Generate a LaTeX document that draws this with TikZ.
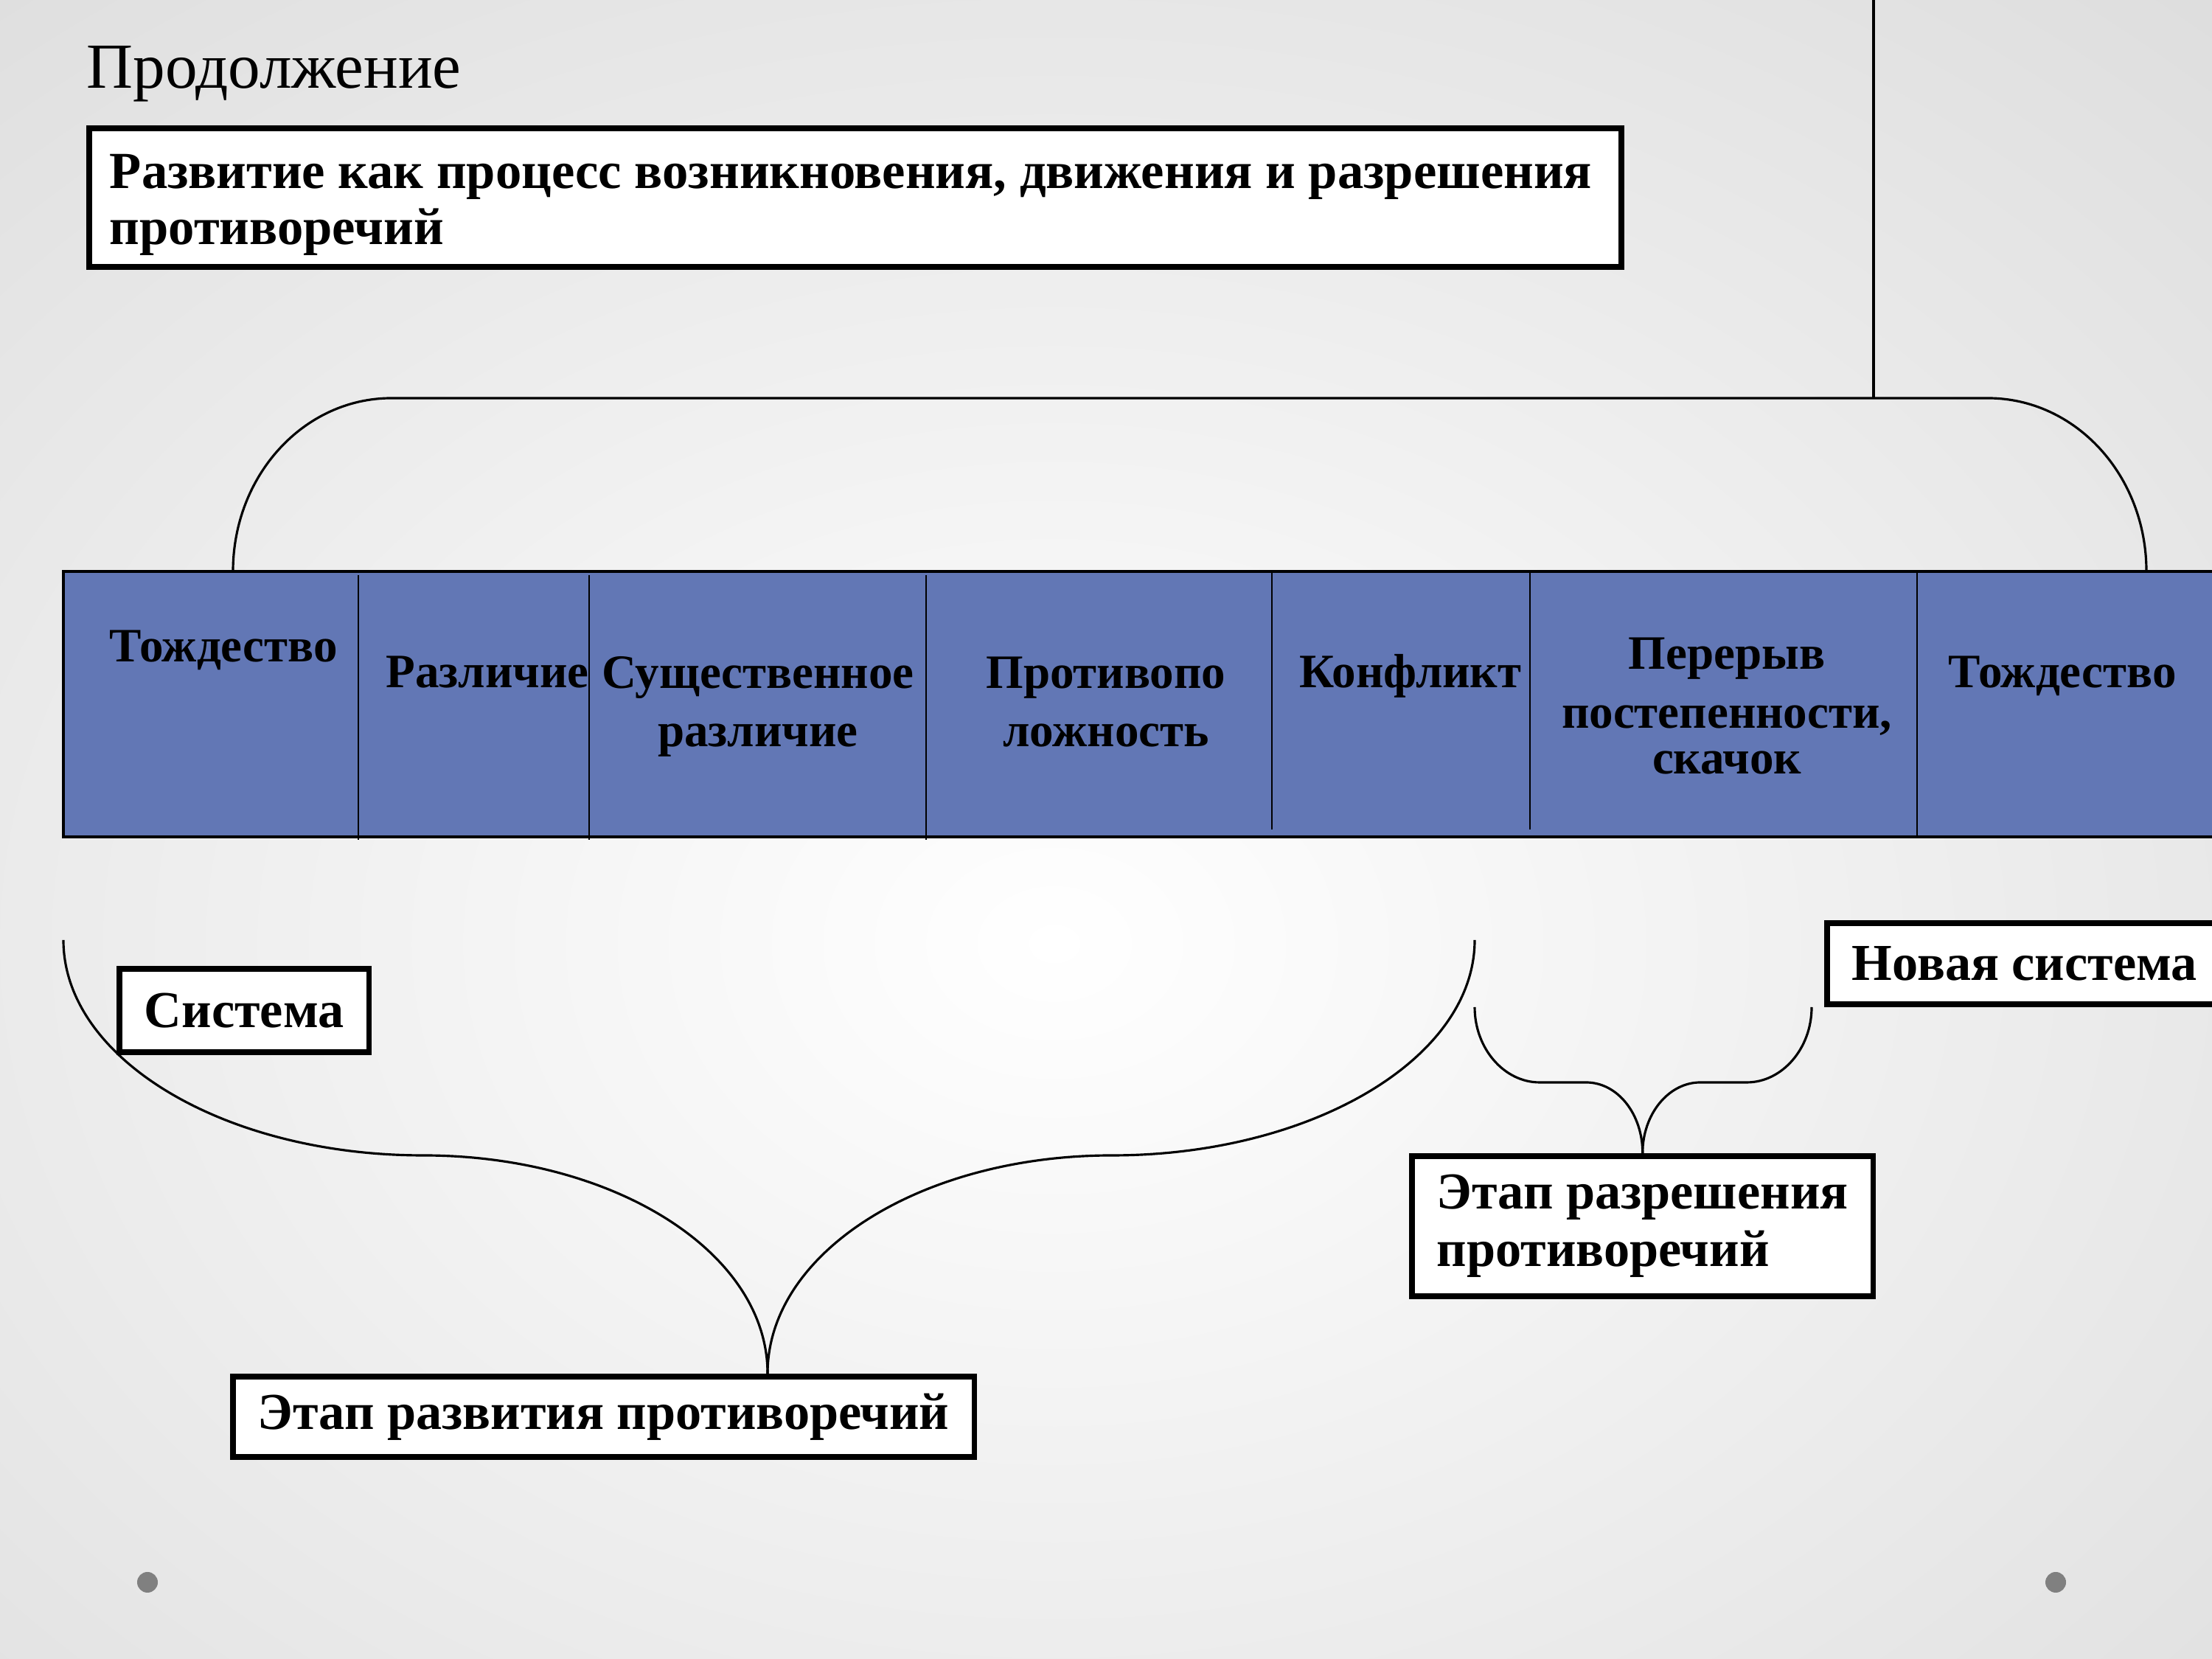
\documentclass[tikz,border=0pt]{standalone}
\usepackage{fontspec}
\setmainfont{Liberation Serif}

\definecolor{barblue}{RGB}{98,119,181}
\definecolor{bggray}{RGB}{212,212,212}
\definecolor{dotgray}{RGB}{128,128,128}

\begin{document}
\begin{tikzpicture}[
  box/.style={draw,line width=2.2pt,fill=white,anchor=north west,align=left,
    inner xsep=0.34cm,font=\fontsize{20}{22.5}\selectfont\bfseries},
  cell/.style={anchor=base,align=center,inner sep=0pt,
    font=\fontsize{18.5}{22.7}\selectfont\bfseries},
  brace/.style={line width=0.9pt},
  split/.style={line width=0.6pt},
]
\useasboundingbox (0,0) rectangle (30,22.5);

% Background
\begin{scope}
  \clip (0,0) rectangle (30,22.5);
  \shade[inner color=white,outer color=bggray] (-15.7,-12.8) rectangle (44.3,32.2);
\end{scope}

% Title and heading box
\node[anchor=base west,inner sep=0pt,font=\fontsize{24.8}{28}\selectfont] (title) at (1.17,21.30) {Продолжение};
\node[box,inner xsep=0.28cm,minimum height=1.88cm,
  font=\fontsize{20.1}{21.6}\selectfont\bfseries] (topic) at (1.17,20.80)
  {\rule{0pt}{0.67cm}Развитие как процесс возникновения, движения и разрешения\hspace*{0.12cm}\\противоречий};

% Stages bar
\draw[fill=barblue,line width=1pt] (0.86,11.15) rectangle (30.3,14.75);
\draw[split] (4.86,14.70) -- (4.86,11.11);
\draw[split] (7.99,14.70) -- (7.99,11.11);
\draw[split] (12.56,14.70) -- (12.56,11.11);
\draw[split] (17.25,14.75) -- (17.25,11.25);
\draw[split] (20.75,14.75) -- (20.75,11.25);
\draw[split] (26.00,14.75) -- (26.00,11.15);

\node[cell] (ident) at (3.03,13.52) {Тождество};
\node[cell] (diff) at (6.61,13.17) {Различие};
\node[cell] (essdiff) at (10.28,12.37) {Существенное\\различие};
\node[cell] (oppos) at (15.00,12.37) {Противопо\\ложность};
\node[cell] (confl) at (19.13,13.17) {Конфликт};
\node[cell] (leap) at (23.42,12.00) {Перерыв\\постепенности,\\[-4.8pt]скачок};
\node[cell] (ident2) at (27.97,13.17) {Тождество};

% Stage boxes
\node[box,minimum height=1.13cm] (sys) at (1.58,9.40) {Система};
\node[box,minimum height=1.10cm] (newsys) at (24.74,10.02) {Новая система};
\node[box,minimum height=1.09cm] (evol) at (3.12,3.87) {Этап развития противоречий};
\node[box,minimum height=1.90cm,font=\fontsize{20}{22}\selectfont\bfseries] (resol) at (19.11,6.86) {Этап разрешения\\противоречий};

% Brace over the bar
\coordinate (topL) at (3.16,14.75);
\coordinate (topR) at (29.11,14.75);
\coordinate (stem) at (25.41,17.1);
\draw[brace] (topL) .. controls (3.16,16.05) and (4.12,17.1) .. (5.31,17.1)
  -- (26.96,17.1) .. controls (28.15,17.1) and (29.11,16.05) .. (topR);
\draw[brace] (stem) -- (25.41,22.6);

% Brace of the development stage
\coordinate (devL) at (0.86,9.75);
\coordinate (devR) at (20.00,9.75);
\coordinate (devTip) at (10.41,3.87);
\draw[brace] (devL) .. controls (0.86,8.14) and (3.04,6.83) .. (5.74,6.83)
  .. controls (8.32,6.83) and (10.41,5.52) .. (devTip);
\draw[brace] (devR) .. controls (20.00,8.14) and (17.78,6.83) .. (15.08,6.83)
  .. controls (12.50,6.83) and (10.41,5.52) .. (devTip);

% Brace of the resolution stage
\coordinate (resL) at (20.00,8.84);
\coordinate (resR) at (24.57,8.84);
\draw[brace] (resL) .. controls (20.00,8.28) and (20.40,7.82) .. (20.88,7.82)
  -- (21.51,7.82) .. controls (21.94,7.82) and (resol.north |- 0,7.39) .. (resol.north);
\draw[brace] (resR) .. controls (24.57,8.28) and (24.17,7.82) .. (23.69,7.82)
  -- (23.06,7.82) .. controls (22.63,7.82) and (resol.north |- 0,7.39) .. (resol.north);

% Slide dots
\fill[dotgray] (2.00,1.04) circle (0.14);
\fill[dotgray] (27.88,1.04) circle (0.14);

\end{tikzpicture}
\end{document}
